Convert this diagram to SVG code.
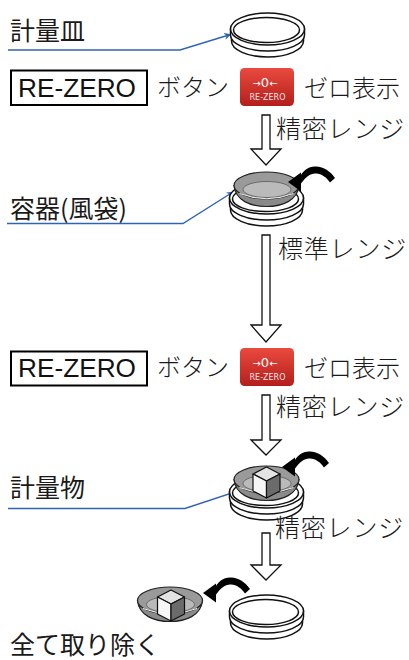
<svg xmlns="http://www.w3.org/2000/svg" xmlns:xlink="http://www.w3.org/1999/xlink" width="409" height="660" viewBox="0 0 409 660">
  <style>
    .lbl { font-family: "Noto Sans CJK JP", "Noto Sans", sans-serif; font-size: 25px; fill: #1a1a1a; }
    .thin { font-family: "Noto Sans CJK JP", "Noto Sans", sans-serif; font-size: 24px; fill: #1a1a1a; font-weight: 300; }
    .range { font-family: "Noto Sans CJK JP", "Noto Sans", sans-serif; font-size: 25px; fill: #1a1a1a; font-weight: 300; letter-spacing: 0.8px; }
    .rz { font-family: "Liberation Sans", Arial, sans-serif; font-size: 25px; fill: #111; }
    .box { fill: #fff; stroke: #000; stroke-width: 2; }
    .pan { fill: #fff; stroke: #111; stroke-width: 1.5; }
    .flow { fill: #fff; stroke: #111; stroke-width: 1.3; stroke-linejoin: miter; }
    .lead { fill: none; stroke: #2f64b5; stroke-width: 1.4; }
    .btn-t { font-family: "DejaVu Sans", "Liberation Sans", sans-serif; fill: #fff; text-anchor: middle; }
  </style>
  <defs>
    <linearGradient id="btnGrad" x1="0" y1="0" x2="0" y2="1">
      <stop offset="0" stop-color="#ea4a3e"/>
      <stop offset="1" stop-color="#b31f1c"/>
    </linearGradient>
    <marker id="blueHead" viewBox="0 0 10 10" refX="9" refY="5" markerWidth="7" markerHeight="7" markerUnits="userSpaceOnUse" orient="auto">
      <path d="M0,0 L10,5 L0,10 L3,5 Z" fill="#2f64b5"/>
    </marker>
    <!-- weighing pan: stacked disc, origin at centre of the top face -->
    <g id="pan">
      <path class="pan" d="M-36,6 L-36,12 A36 16 0 0 0 36,12 L36,6 Z"/>
      <path class="pan" d="M-37,0 L-37,6 A37 16 0 0 0 37,6 L37,0 Z"/>
      <ellipse class="pan" cx="0" cy="0" rx="37" ry="16"/>
      <ellipse class="pan" cx="-1" cy="1" rx="33" ry="12.5"/>
    </g>
    <!-- tare container (bowl), origin at rim centre -->
    <g id="bowl">
      <path d="M-32.5,0 C-31,15 -16,21 0,21 C16,21 31,15 32.5,0 Z" fill="#8a8a8a" stroke="#222" stroke-width="1.2"/>
      <ellipse cx="0" cy="0" rx="32.5" ry="13.5" fill="#9a9a9a" stroke="#222" stroke-width="1.2"/>
      <ellipse cx="0.5" cy="4" rx="24" ry="8" fill="#bababa" stroke="#5a5a5a" stroke-width="0.8"/>
      <path d="M-27,8 Q0,18.5 27,8" fill="none" stroke="#f2f2f2" stroke-width="1"/>
    </g>
    <!-- object to weigh: small cube, origin at top vertex -->
    <g id="cube" stroke="#111" stroke-width="1.2" stroke-linejoin="round">
      <path d="M0,0 L13.5,7 L0,14 L-13.5,7 Z" fill="#e4e4e4"/>
      <path d="M-13.5,7 L0,14 L0,31 L-13.5,24 Z" fill="#f6f6f6"/>
      <path d="M0,14 L13.5,7 L13.5,24 L0,31 Z" fill="#6b6b6b"/>
    </g>
    <!-- curved black arrow, origin at arrow tip -->
    <g id="curl" fill="#000">
      <path d="M11,-3.5 C15,-12 21,-16 28,-15.5 C36,-15 42,-11 47,-4 L42,0.5 C38,-5 34,-8 28,-8.5 C23,-9 18,-6 12,3 Z"/>
      <path d="M0,0 L13,-9.5 L13,9.5 Z"/>
    </g>
  </defs>

  <!-- connectors: downward flow arrows and leader lines -->
  <g id="connectors">
    <path class="flow" d="M262,115 L270,115 L270,149 L281,149 L266,165 L251,149 L262,149 Z"/>
    <path class="flow" d="M262,235 L270,235 L270,325 L281,325 L266,342 L251,325 L262,325 Z"/>
    <path class="flow" d="M262,395 L270,395 L270,440 L281,440 L266,455 L251,440 L262,440 Z"/>
    <path class="flow" d="M262,533 L270,533 L270,565 L281,565 L266,580 L251,565 L262,565 Z"/>
    <path class="lead" d="M8,50 L180,50 L230.5,34.5" marker-end="url(#blueHead)"/>
    <path class="lead" d="M7,223.5 L183,223.5 L233,192" marker-end="url(#blueHead)"/>
    <path class="lead" d="M8,508.5 L185,508.5 L257.5,484.5" marker-end="url(#blueHead)"/>
  </g>

  <!-- step 1: empty pan -->
  <g id="pan-empty">
    <use xlink:href="#pan" x="267.5" y="29"/>
    <text class="lbl" x="10" y="40">計量皿</text>
  </g>

  <!-- step 2: first RE-ZERO -->
  <g id="rezero-1">
    <rect class="box" x="11" y="70.5" width="136" height="34.5"/>
    <text class="rz" x="18" y="97" textLength="118" lengthAdjust="spacingAndGlyphs">RE-ZERO</text>
    <text class="thin" x="157" y="96">ボタン</text>
    <rect x="240" y="68" width="54" height="38" rx="4.5" fill="url(#btnGrad)"/>
    <text class="btn-t" x="265" y="87" font-size="13"><tspan font-size="10">→</tspan>0<tspan font-size="10">←</tspan></text>
    <text class="btn-t" x="267.5" y="99.5" font-size="8" fill-opacity="0.9">RE-ZERO</text>
    <text class="thin" x="304" y="97">ゼロ表示</text>
  </g>
  <text class="range" x="276" y="138">精密レンジ</text>

  <!-- step 3: container placed on the pan -->
  <g id="pan-tare">
    <use xlink:href="#pan" x="266.5" y="198"/>
    <use xlink:href="#bowl" x="266.5" y="185.5"/>
    <use xlink:href="#curl" x="288" y="182"/>
    <text class="lbl" x="10" y="218">容器(風袋)</text>
  </g>
  <text class="range" x="278" y="258">標準レンジ</text>

  <!-- step 4: second RE-ZERO -->
  <g id="rezero-2">
    <rect class="box" x="11" y="351.5" width="136" height="34"/>
    <text class="rz" x="18" y="377" textLength="118" lengthAdjust="spacingAndGlyphs">RE-ZERO</text>
    <text class="thin" x="157" y="376">ボタン</text>
    <rect x="240" y="348" width="54" height="38" rx="4.5" fill="url(#btnGrad)"/>
    <text class="btn-t" x="265" y="367" font-size="13"><tspan font-size="10">→</tspan>0<tspan font-size="10">←</tspan></text>
    <text class="btn-t" x="267.5" y="379.5" font-size="8" fill-opacity="0.9">RE-ZERO</text>
    <text class="thin" x="304" y="377">ゼロ表示</text>
  </g>
  <text class="range" x="276" y="416">精密レンジ</text>

  <!-- step 5: object in the container -->
  <g id="pan-object">
    <use xlink:href="#pan" x="266.5" y="492"/>
    <use xlink:href="#bowl" x="266.5" y="479.5"/>
    <use xlink:href="#cube" x="266.5" y="467"/>
    <use xlink:href="#curl" x="282" y="467"/>
    <text class="lbl" x="10" y="497">計量物</text>
  </g>
  <text class="range" x="275" y="537">精密レンジ</text>

  <!-- step 6: everything removed -->
  <g id="pan-cleared">
    <use xlink:href="#bowl" x="170" y="600.5"/>
    <use xlink:href="#cube" x="171" y="590"/>
    <use xlink:href="#curl" x="203" y="593"/>
    <use xlink:href="#pan" x="266.5" y="611"/>
    <text class="lbl" x="10" y="654">全て取り除く</text>
  </g>
</svg>
